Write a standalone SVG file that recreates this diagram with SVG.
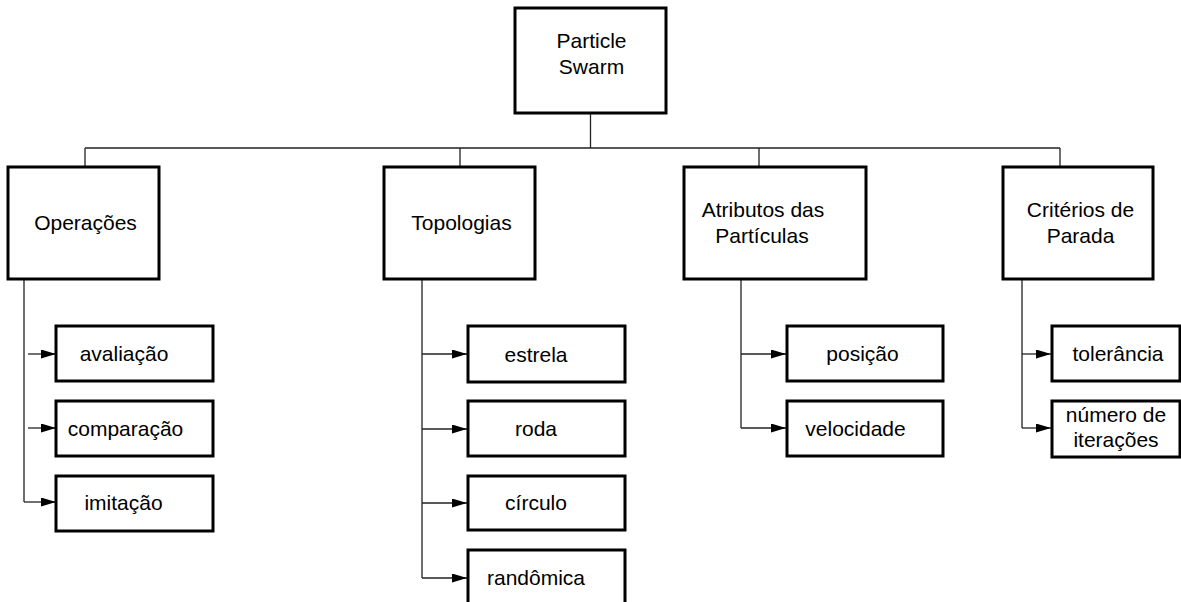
<svg xmlns="http://www.w3.org/2000/svg" width="1181" height="602" viewBox="0 0 1181 602">
<style>
.box{fill:#fff;stroke:#000;stroke-width:3}
.t{font-family:"Liberation Sans",Arial,sans-serif;font-size:21px;fill:#000}
.c{text-anchor:middle}
.ln{fill:none;stroke:#222;stroke-width:1.3}
.ar{fill:none;stroke:#222;stroke-width:1.3;marker-end:url(#ah)}
</style>
<defs>
<marker id="ah" markerUnits="userSpaceOnUse" markerWidth="16" markerHeight="10" refX="15" refY="4.5" orient="auto">
<path d="M0,0 L15,4.5 L0,9 z" fill="#000"/>
</marker>
</defs>
<rect width="1181" height="602" fill="#fff"/>
<g id="connectors">
<path class="ln" d="M590.5,113 V148 M85,148 H1060 M85,148 V167 M460,148 V167 M759,148 V167 M1060,148 V167"/>
<path class="ln" d="M24,279 V502 M422,279 V578 M741,279 V428 M1022,279 V428"/>
<path class="ar" d="M28,354 H56"/>
<path class="ar" d="M28,428 H56"/>
<path class="ar" d="M24,502 H56"/>
<path class="ar" d="M422,354 H467"/>
<path class="ar" d="M422,429 H467"/>
<path class="ar" d="M422,503 H467"/>
<path class="ar" d="M422,578 H467"/>
<path class="ar" d="M741,354 H786"/>
<path class="ar" d="M741,428 H786"/>
<path class="ar" d="M1022,354 H1051"/>
<path class="ar" d="M1022,428 H1051"/>
</g>
<g id="root"><rect class="box" x="515" y="8" width="151" height="105"/><text class="t c" x="591.5" y="48">Particle</text><text class="t c" x="591.5" y="74">Swarm</text></g>
<g id="operacoes"><rect class="box" x="8" y="167" width="151" height="112"/><text class="t c" x="85.5" y="230">Operações</text></g>
<g id="topologias"><rect class="box" x="384" y="167" width="151" height="112"/><text class="t c" x="461.5" y="230">Topologias</text></g>
<g id="atributos"><rect class="box" x="684" y="167" width="182" height="112"/><text class="t c" x="763" y="217">Atributos das</text><text class="t c" x="762" y="243">Partículas</text></g>
<g id="criterios"><rect class="box" x="1003" y="167" width="150" height="112"/><text class="t c" x="1080.5" y="217">Critérios de</text><text class="t c" x="1080.5" y="243">Parada</text></g>
<g id="avaliacao"><rect class="box" x="56" y="326" width="157" height="55"/><text class="t c" x="124" y="361">avaliação</text></g>
<g id="comparacao"><rect class="box" x="56" y="401" width="157" height="55"/><text class="t c" x="125.5" y="435.5">comparação</text></g>
<g id="imitacao"><rect class="box" x="56" y="476" width="157" height="55"/><text class="t c" x="123.5" y="510">imitação</text></g>
<g id="estrela"><rect class="box" x="468" y="326" width="157" height="56"/><text class="t c" x="536" y="361.5">estrela</text></g>
<g id="roda"><rect class="box" x="468" y="401" width="157" height="55"/><text class="t c" x="536" y="436">roda</text></g>
<g id="circulo"><rect class="box" x="468" y="476" width="157" height="54"/><text class="t c" x="536" y="510">círculo</text></g>
<g id="randomica"><rect class="box" x="468" y="550" width="157" height="60"/><text class="t c" x="536" y="584.5">randômica</text></g>
<g id="posicao"><rect class="box" x="787" y="326" width="156" height="55"/><text class="t c" x="862.5" y="361">posição</text></g>
<g id="velocidade"><rect class="box" x="787" y="401" width="156" height="55"/><text class="t c" x="855.5" y="435.5">velocidade</text></g>
<g id="tolerancia"><rect class="box" x="1052" y="326" width="128" height="55"/><text class="t c" x="1118" y="361">tolerância</text></g>
<g id="iteracoes"><rect class="box" x="1052" y="401" width="128" height="56"/><text class="t c" x="1116" y="422">número de</text><text class="t c" x="1116" y="447">iterações</text></g>
</svg>
